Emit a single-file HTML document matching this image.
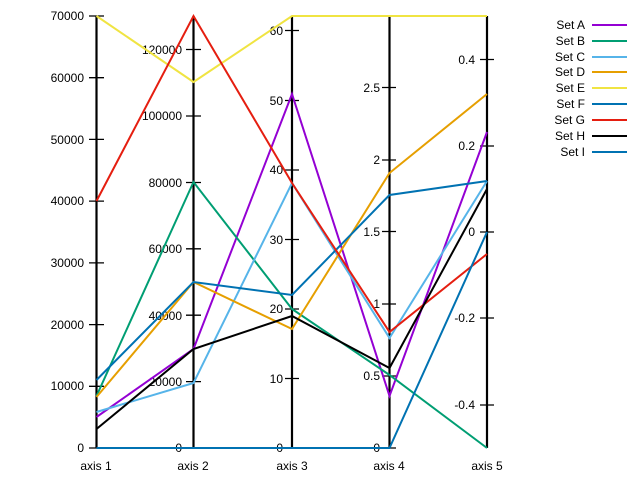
<!DOCTYPE html>
<html><head><style>body{margin:0;background:#fff}svg{display:block}text{font-family:"Liberation Sans",sans-serif;font-size:12px;fill:#000}</style></head><body>
<svg width="640" height="480" xmlns="http://www.w3.org/2000/svg">
<g stroke="#000" stroke-width="2.2">
<line x1="96.5" y1="16" x2="96.5" y2="448"/><line x1="193.5" y1="16" x2="193.5" y2="448"/><line x1="292" y1="16" x2="292" y2="448"/><line x1="389.5" y1="16" x2="389.5" y2="448"/><line x1="487" y1="16" x2="487" y2="448"/>
</g>
<g stroke="#000" stroke-width="1.3">
<path d="M89 448h15M89 386.3h15M89 324.6h15M89 262.9h15M89 201.1h15M89 139.4h15M89 77.7h15M89 16h15"/>
<path d="M186 448h15M186 381.6h15M186 315.2h15M186 248.8h15M186 182.5h15M186 116h15M186 49.5h15"/>
<path d="M285 448h14M285 378.5h14M285 309h14M285 239.5h14M285 170h14M285 100.5h14M285 30.5h14"/>
<path d="M382 448h14M382 376h14M382 304h14M382 231.5h14M382 160h14M382 87.5h14"/>
<path d="M480 59.5h14M480 146h14M480 232h14M480 318h14M480 405h14"/>
</g>
<g text-anchor="end">
<text x="84" y="452">0</text><text x="84" y="390">10000</text><text x="84" y="329">20000</text><text x="84" y="267">30000</text><text x="84" y="205">40000</text><text x="84" y="144">50000</text><text x="84" y="82">60000</text><text x="84" y="20">70000</text>
<text x="182" y="452">0</text><text x="182" y="386">20000</text><text x="182" y="320">40000</text><text x="182" y="253">60000</text><text x="182" y="187">80000</text><text x="182" y="120">100000</text><text x="182" y="54">120000</text>
<text x="283" y="452">0</text><text x="283" y="383">10</text><text x="283" y="313">20</text><text x="283" y="244">30</text><text x="283" y="174">40</text><text x="283" y="105">50</text><text x="283" y="35">60</text>
<text x="380" y="452">0</text><text x="380" y="380">0.5</text><text x="380" y="308">1</text><text x="380" y="236">1.5</text><text x="380" y="164">2</text><text x="380" y="92">2.5</text>
<text x="475" y="64">0.4</text><text x="475" y="150">0.2</text><text x="475" y="236">0</text><text x="475" y="322">-0.2</text><text x="475" y="409">-0.4</text>
</g>
<g text-anchor="middle">
<text x="96" y="470">axis 1</text><text x="193" y="470">axis 2</text><text x="292" y="470">axis 3</text><text x="389" y="470">axis 4</text><text x="487" y="470">axis 5</text>
</g>
<g fill="none" stroke-width="2">
<polyline stroke="#9400d3" points="96.5,417 193.5,349 292,94 389.5,396 487,132"/>
<polyline stroke="#009e73" points="96.5,396 193.5,182 292,309 389.5,375 487,448"/>
<polyline stroke="#56b4e9" points="96.5,412 193.5,383 292,183 389.5,338 487,181"/>
<polyline stroke="#e69f00" points="96.5,397 193.5,282 292,329 389.5,173 487,94"/>
<polyline stroke="#f0e442" points="96.5,16 193.5,82 292,16 389.5,16 487,16"/>
<polyline stroke="#0072b2" points="96.5,380 193.5,282 292,295 389.5,195 487,181"/>
<polyline stroke="#e51e10" points="96.5,201 193.5,16 292,183 389.5,332 487,254"/>
<polyline stroke="#000000" points="96.5,429 193.5,349 292,316 389.5,368 487,189"/>
<polyline stroke="#0072b2" points="96.5,448 193.5,448 292,448 389.5,448 487,232"/>
</g>
<g text-anchor="end">
<text x="585" y="29">Set A</text><text x="585" y="45">Set B</text><text x="585" y="61">Set C</text><text x="585" y="76">Set D</text><text x="585" y="92">Set E</text><text x="585" y="108">Set F</text><text x="585" y="124">Set G</text><text x="585" y="140">Set H</text><text x="585" y="156">Set I</text>
</g>
<g stroke-width="2">
<line x1="592" x2="627" y1="25" y2="25" stroke="#9400d3"/><line x1="592" x2="627" y1="41" y2="41" stroke="#009e73"/><line x1="592" x2="627" y1="57" y2="57" stroke="#56b4e9"/><line x1="592" x2="627" y1="72" y2="72" stroke="#e69f00"/><line x1="592" x2="627" y1="88" y2="88" stroke="#f0e442"/><line x1="592" x2="627" y1="104" y2="104" stroke="#0072b2"/><line x1="592" x2="627" y1="120" y2="120" stroke="#e51e10"/><line x1="592" x2="627" y1="136" y2="136" stroke="#000"/><line x1="592" x2="627" y1="152" y2="152" stroke="#0072b2"/>
</g>
</svg>
</body></html>
